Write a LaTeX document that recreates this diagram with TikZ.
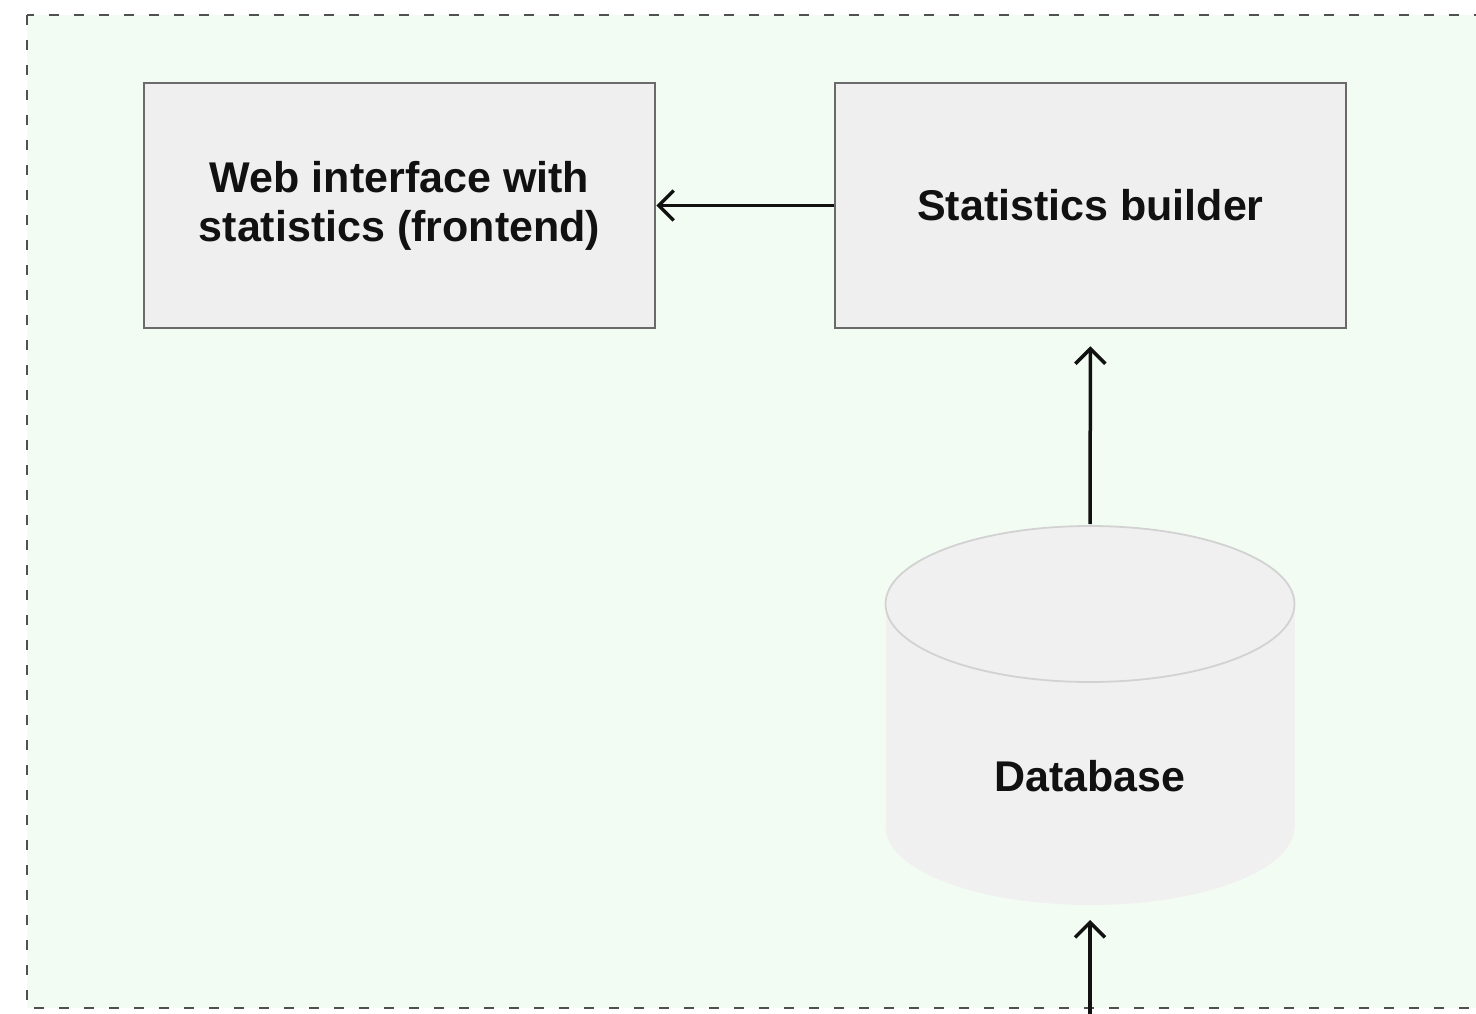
\documentclass[tikz,border=0pt]{standalone}
\usepackage{fontspec}
\setmainfont{Liberation Sans}
\usetikzlibrary{arrows.meta}
\definecolor{zonebg}{HTML}{F3FCF3}
\definecolor{zoneline}{HTML}{505050}
\definecolor{boxfill}{HTML}{EFEFEF}
\definecolor{boxline}{HTML}{6A6A6A}
\definecolor{dbfill}{HTML}{F0F0F0}
\definecolor{dbline}{HTML}{D2D2D2}
\definecolor{ink}{HTML}{111111}
\tikzset{
  procbox/.style={draw=boxline, line width=2.5pt, fill=boxfill, minimum width=511pt,
    minimum height=245pt, align=center, text=ink, inner sep=0pt,
    font=\fontsize{43}{49}\selectfont\bfseries},
  flow/.style={draw=ink, line width=3.5pt, -{Straight Barb[length=15pt,width=30pt,line width=3.5pt]}},
}
\begin{document}
\begin{tikzpicture}[x=1pt,y=-1pt]
  \useasboundingbox (0,0) rectangle (1476,1014);
  \clip (0,0) rectangle (1476,1014);
  % dashed zone
  \fill[white] (0,0) rectangle (1476,1014);
  \draw[fill=zonebg, draw=zoneline, line width=2.5pt, dash pattern=on 10pt off 15pt]
    (27,15) rectangle (1500,1008);
  % process boxes
  \node[procbox] (web) at (399.5,205.5) {Web interface with\\statistics (frontend)};
  \node[procbox] (stats) at (1090.5,205.5) {Statistics builder};
  % database cylinder
  \fill[dbfill] (885.5,604) rectangle (1294.5,827);
  \fill[dbfill] (1090,827) ellipse [x radius=204.5, y radius=78];
  \draw[dbline, fill=dbfill, line width=1.8pt] (1090,604) ellipse [x radius=204.5, y radius=78];
  \node[text=ink, font=\fontsize{43}{49}\selectfont\bfseries] (db) at (1090,776) {Database};
  \coordinate (dbtop) at (1090,524);
  \coordinate (dbbot) at (1090,905);
  \coordinate (feed) at (1090,1030);
  % connectors
  \draw[flow] (stats.west) -- (web.east);
  \draw[flow, shorten >=17pt] (dbtop) -- (stats.south);
  \draw[flow, shorten >=15pt] (feed) -- (dbbot);
\end{tikzpicture}
\end{document}
